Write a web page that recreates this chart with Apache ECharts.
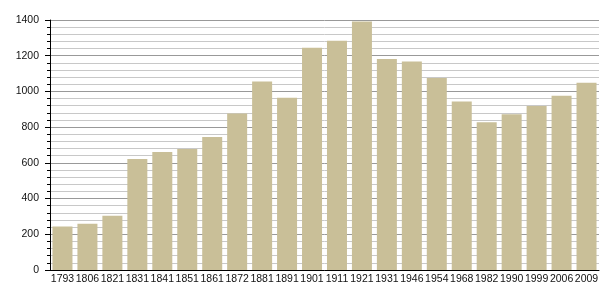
<!DOCTYPE html>
<html>
<head>
<meta charset="utf-8">
<script src="https://cdn.jsdelivr.net/npm/echarts@6/dist/echarts.min.js"></script>
<style>
html,body{margin:0;padding:0;background:#fff;}
#chart{width:605px;height:300px;}
</style>
</head>
<body>
<div id="chart"></div>
<script>
const years = ['1793','1806','1821','1831','1841','1851','1861','1872','1881','1891','1901','1911','1921','1931','1946','1954','1968','1982','1990','1999','2006','2009'];
const population = [243,259,304,622,661,677,745,877,1055,965,1245,1284,1391,1182,1167,1075,943,827,872,918,976,1049];
const yTicks = {min:0, max:1400, interval:200};

const chart = echarts.init(document.getElementById('chart'), null, {renderer:'canvas'});
chart.setOption({
  animation:false,
  backgroundColor:'#ffffff',
  textStyle:{fontFamily:'Liberation Sans, Arial, sans-serif'},
  grid:{left:50, right:6, top:20, bottom:30},
  xAxis:{
    type:'category',
    data:years,
    axisLine:{show:true, lineStyle:{color:'#000', width:1}},
    axisTick:{show:false},
    axisLabel:{color:'#111', fontSize:10.5, margin:4, interval:0, fontFamily:'Liberation Sans, Arial, sans-serif'},
    splitLine:{show:false}
  },
  yAxis:{
    type:'value',
    min:yTicks.min, max:yTicks.max, interval:yTicks.interval,
    axisLine:{show:true, lineStyle:{color:'#000', width:1}},
    axisTick:{show:true, length:5, lineStyle:{color:'#000'}},
    minorTick:{show:true, splitNumber:5, length:3, lineStyle:{color:'#000'}},
    axisLabel:{color:'#111', fontSize:10.5, margin:11, formatter:function(v){return String(v);}, fontFamily:'Liberation Sans, Arial, sans-serif'},
    splitLine:{show:true, lineStyle:{color:'#999', width:1}},
    minorSplitLine:{show:true, lineStyle:{color:'#c8c8c8', width:1}}
  },
  series:[{
    type:'bar',
    data:population,
    barWidth:20,
    itemStyle:{color:'#c9bf98'}
  }]
});
</script>
</body>
</html>
